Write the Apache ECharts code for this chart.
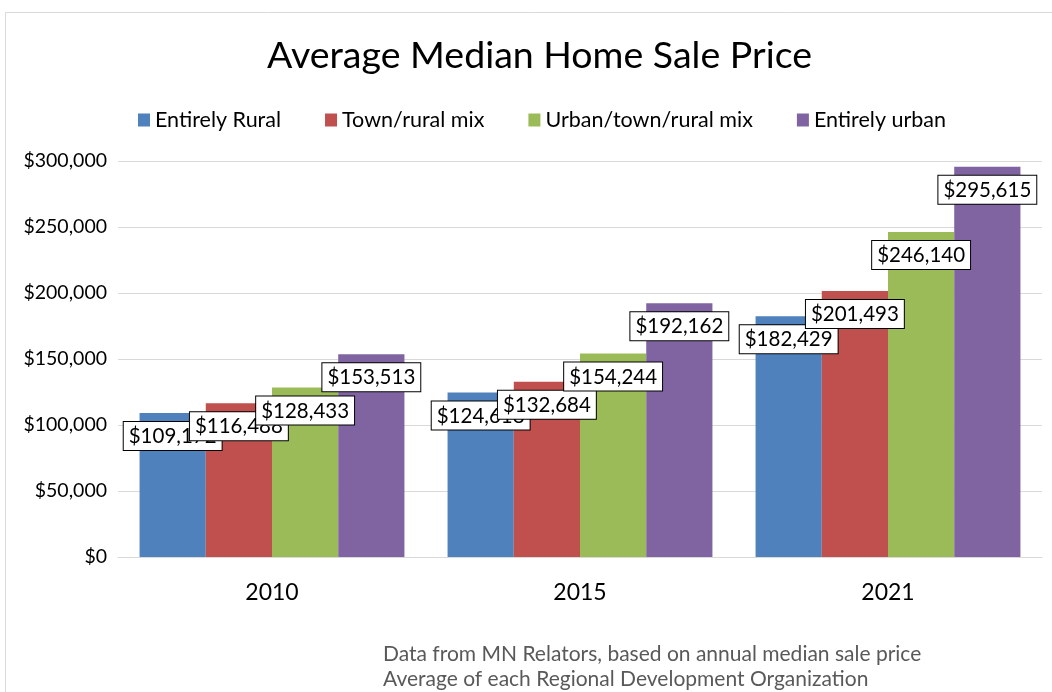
<!DOCTYPE html>
<html>
<head>
<meta charset="utf-8">
<script src="https://cdn.jsdelivr.net/npm/echarts@6/dist/echarts.min.js"></script>
<style>
  body { margin: 0; background: #fff; }
  #chart { width: 1052px; height: 692px; }
</style>
</head>
<body>
<div id="chart"></div>
<script>
// data
const years = ['2010', '2015', '2021'];
const seriesNames = ['Entirely Rural', 'Town/rural mix', 'Urban/town/rural mix', 'Entirely urban'];
const entirelyRural = [109172, 124618, 182429];
const townRural = [116488, 132684, 201493];
const urbanTownRural = [128433, 154244, 246140];
const entirelyUrban = [153513, 192162, 295615];
const colors = ['#4F81BD', '#C0504D', '#9BBB59', '#8064A2'];

const font = 'Lato, "Open Sans", sans-serif';
const money = v => '$' + Number(v).toLocaleString('en-US');

const chart = echarts.init(document.getElementById('chart'));

function makeSeries(name, data, i) {
  return {
    name: name,
    type: 'bar',
    data: data,
    barGap: '0%',
    barCategoryGap: '14%',
    itemStyle: { color: colors[i] },
    label: {
      show: true,
      position: 'insideTop',
      distance: 9,
      formatter: p => money(p.value),
      fontFamily: font,
      fontSize: 20.5,
      color: '#000',
      backgroundColor: '#fff',
      borderColor: '#000',
      borderWidth: 1,
      padding: [4, 5, 3, 5],
      lineHeight: 21
    }
  };
}

chart.setOption({
  animation: false,
  textStyle: { fontFamily: font },
  title: {
    text: 'Average Median Home Sale Price',
    left: 262,
    top: 32,
    textStyle: { fontFamily: font, fontSize: 37.5, fontWeight: 'normal', color: '#000' }
  },
  legend: {
    top: 104,
    left: 133,
    itemWidth: 12,
    itemHeight: 13,
    itemGap: 44,
    icon: 'rect',
    textStyle: { fontFamily: font, fontSize: 21.5, color: '#000' },
    data: seriesNames
  },
  grid: { left: 118, right: 10, top: 161, bottom: 135 },
  xAxis: {
    type: 'category',
    data: years,
    axisTick: { show: false },
    axisLine: { lineStyle: { color: '#d9d9d9' } },
    axisLabel: { fontFamily: font, fontSize: 23, color: '#000', margin: 24 }
  },
  yAxis: {
    type: 'value',
    min: 0,
    max: 300000,
    interval: 50000,
    axisLine: { show: false },
    axisTick: { show: false },
    splitLine: { lineStyle: { color: '#d9d9d9' } },
    axisLabel: { fontFamily: font, fontSize: 19.5, color: '#000', formatter: money, margin: 11 }
  },
  series: [
    makeSeries(seriesNames[0], entirelyRural, 0),
    makeSeries(seriesNames[1], townRural, 1),
    makeSeries(seriesNames[2], urbanTownRural, 2),
    makeSeries(seriesNames[3], entirelyUrban, 3)
  ],
  graphic: [
    {
      type: 'rect',
      left: 3, top: 10,
      shape: { width: 1100, height: 800 },
      style: { fill: 'none', stroke: '#d9d9d9', lineWidth: 1 },
      silent: true
    },
    {
      type: 'text',
      left: 383, top: 642,
      style: {
        text: 'Data from MN Relators, based on annual median sale price\nAverage of each Regional Development Organization',
        fontFamily: font,
        fontSize: 21,
        lineHeight: 25,
        fill: '#595959'
      }
    }
  ]
});
</script>
</body>
</html>
